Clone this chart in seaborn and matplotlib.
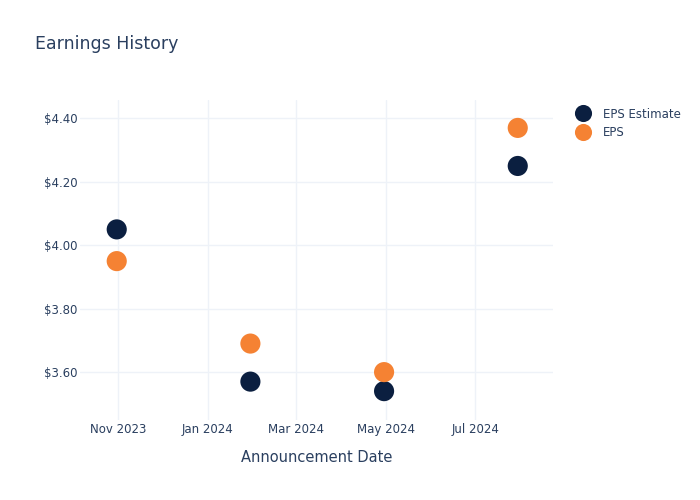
import matplotlib
matplotlib.use("Agg")
import matplotlib.pyplot as plt
import seaborn as sns
import pandas as pd

dates = ["2023-10-31", "2024-01-30", "2024-04-30", "2024-07-30"]
eps_estimate = [4.05, 3.57, 3.54, 4.25]
eps_actual = [3.95, 3.69, 3.60, 4.37]
series_names = ["EPS Estimate", "EPS"]
colors = ["#0B1F40", "#F58233"]

df = pd.DataFrame({
    "date": pd.to_datetime(dates * 2),
    "value": eps_estimate + eps_actual,
    "series": [series_names[0]] * 4 + [series_names[1]] * 4,
})

sns.set_theme(style="white")
plt.rcParams["font.family"] = ["DejaVu Sans"]
text_color = "#2a3f5f"
grid_color = "#EEF2F8"

fig = plt.figure(figsize=(7, 5), dpi=100)
ax = fig.add_axes([80/700, 80/500, (553-80)/700, (420-100)/500])

sns.scatterplot(data=df, x="date", y="value", hue="series",
                palette=dict(zip(series_names, colors)), s=210,
                edgecolor="none", ax=ax, zorder=3)

ax.set_xlim(pd.Timestamp("2023-10-06"), pd.Timestamp("2024-08-23"))
ax.set_ylim(3.449, 4.458)
ax.set_yticks([3.6, 3.8, 4.0, 4.2, 4.4])
ax.set_yticklabels([f"${v:.2f}" for v in [3.6, 3.8, 4.0, 4.2, 4.4]])
xt = pd.to_datetime(["2023-11-01", "2024-01-01", "2024-03-01", "2024-05-01", "2024-07-01"])
ax.set_xticks(xt)
ax.set_xticklabels([d.strftime("%b %Y") for d in xt])
ax.grid(True, color=grid_color, linewidth=1)
ax.set_axisbelow(True)
for sp in ax.spines.values():
    sp.set_visible(False)
ax.tick_params(axis="x", length=0, labelsize=8.5, colors=text_color, pad=2.2)
ax.tick_params(axis="y", length=0, labelsize=8.5, colors=text_color, pad=2)
ax.set_xlabel("Announcement Date", fontsize=10.5, color=text_color, labelpad=10)
ax.set_ylabel("")

fig.text(35/700, 1 - 44/500, "Earnings History", fontsize=12.5, color=text_color, va="center", ha="left")

leg = ax.legend(loc="upper left", bbox_to_anchor=(1.025, 0.995), frameon=False,
                fontsize=8.5, handletextpad=0.75, labelspacing=0.5, markerscale=0.85,
                borderaxespad=0.1)
for t in leg.get_texts():
    t.set_color(text_color)

fig.savefig("out.png", dpi=100)
